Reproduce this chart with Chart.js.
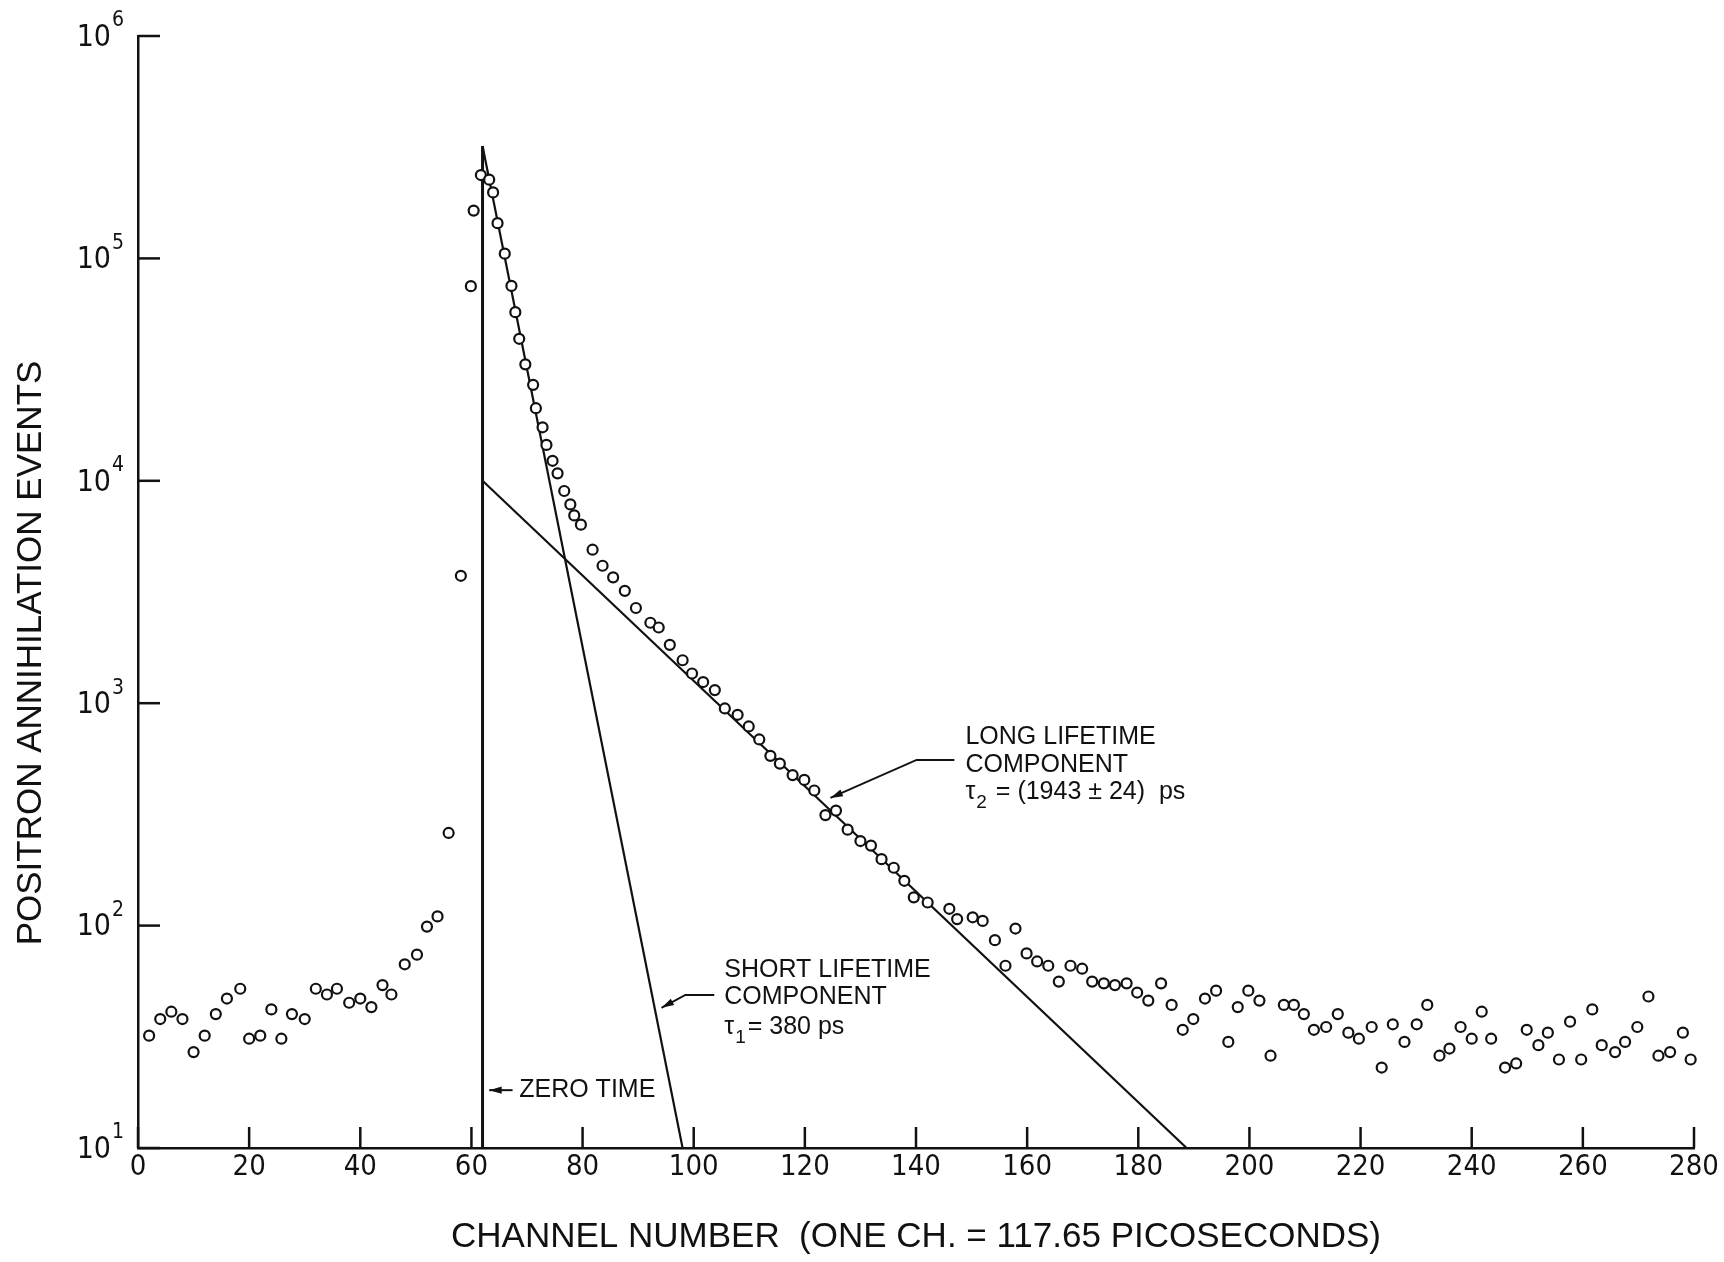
<!DOCTYPE html>
<html>
<head>
<meta charset="utf-8">
<script src="https://cdn.jsdelivr.net/npm/chart.js@4.4.0/dist/chart.umd.min.js"></script>
<style>
  html, body { margin: 0; padding: 0; background: #fff; }
</style>
</head>
<body>
<canvas id="decayChart" width="1724" height="1262"></canvas>
<script>
const INK = '#111';
const TEXT_FONT = "'Liberation Sans', Arial, sans-serif";
const NUM_FONT = "'Liberation Sans Narrow', 'DejaVu Sans Condensed', 'Liberation Sans', sans-serif";

const channels = [
    2, 4, 6, 8, 10, 12, 14, 16, 18.4, 20,
    22, 24, 25.8, 27.7, 30, 32, 34, 35.8, 38, 40,
    42, 44, 45.6, 48, 50.2, 52, 53.9, 55.9, 58.1,
    59.9, 60.4, 61.7, 63.2, 63.9, 64.7, 66.0, 67.2, 67.9, 68.6,
    69.7, 71.1, 71.6, 72.8, 73.5, 74.6, 75.5, 76.7, 77.8, 78.5,
    79.7,
    81.8, 83.6, 85.5, 87.6, 89.6, 92.2, 93.7, 95.7, 98.0, 99.7,
    101.7, 103.8, 105.6, 107.9, 109.9, 111.8, 113.8, 115.5, 117.8, 119.9,
    121.7, 123.7, 125.6, 127.7, 130.0, 131.9, 133.8, 136.0, 137.9, 139.6,
    142.1,
    146.0, 147.4, 150.2, 152.0, 154.2, 156.1, 157.9, 159.9, 161.8, 163.8,
    165.7, 167.8, 169.9, 171.7, 173.8, 175.8, 177.9, 179.8, 181.8, 184.1,
    186.0, 188.0, 189.9, 192.0, 194.0, 196.2, 197.9, 199.8, 201.8, 203.8,
    206.2, 208.0, 209.8, 211.6,
    213.8, 215.9, 217.8, 219.7, 222.0, 223.8, 225.8, 227.9, 230.1, 232.0,
    234.2, 236.0, 238.0, 240.0, 241.8, 243.5, 246.0, 248.0, 249.9, 252.0,
    253.7, 255.7, 257.7, 259.7, 261.7, 263.4, 265.8, 267.6, 269.8, 271.8,
    273.6, 275.7, 278.0, 279.4
];
const counts = [
    32, 38, 41, 38, 27, 32, 40, 47, 52, 31,
    32, 42, 31, 40, 38, 52, 49, 52, 45, 47,
    43, 54, 49, 67, 74, 99, 110, 261, 3740,
    75000, 164000, 237000, 226000, 198000, 144000, 105000, 75200, 57300, 43500,
    33400, 27000, 21200, 17400, 14500, 12300, 10800, 9000, 7830, 6990,
    6350,
    4900, 4150, 3680, 3200, 2680, 2300, 2190, 1830, 1560, 1360,
    1245, 1145, 947, 887, 786, 687, 580, 535, 475, 452,
    405, 314, 329, 270, 240, 229, 199, 182, 159, 134,
    127,
    119, 107, 109, 105, 86, 66, 97, 75, 69, 66,
    56, 66, 64, 56, 55, 54, 55, 50, 46, 55,
    44, 34, 38, 47, 51, 30, 43, 51, 46, 26,
    44, 44, 40, 34,
    35, 40, 33, 31, 35, 23, 36, 30, 36, 44,
    26, 28, 35, 31, 41, 31, 23, 24, 34, 29,
    33, 25, 37, 25, 42, 29, 27, 30, 35, 48,
    26, 27, 33, 25
];

// fitted lines (end points)
const zeroTimeX = [62, 62];
const zeroTimeY = [10, 320000];
const shortFitX = [62, 98];
const shortFitY = [320000, 10];
const longFitX = [62, 188.7];
const longFitY = [10000, 10];

// axes
const xTicks = [0, 20, 40, 60, 80, 100, 120, 140, 160, 180, 200, 220, 240, 260, 280];
const yExponents = [1, 2, 3, 4, 5, 6];
const xTitle = 'CHANNEL NUMBER  (ONE CH. = 117.65 PICOSECONDS)';
const yTitle = 'POSITRON ANNIHILATION EVENTS';

const toPoints = (xs, ys) => xs.map((v, i) => ({ x: v, y: ys[i] }));

// ticks drawn inward, power-of-ten labels, y title and the lettered notes
const decorPlugin = {
    id: 'decor',
    afterDraw(chart) {
        const { ctx, chartArea, scales: { x, y } } = chart;
        const px = v => x.getPixelForValue(v);
        const py = v => y.getPixelForValue(v);
        ctx.save();
        ctx.strokeStyle = INK;
        ctx.fillStyle = INK;
        ctx.lineWidth = 2.5;

        xTicks.forEach(v => {
            ctx.beginPath();
            ctx.moveTo(px(v), chartArea.bottom);
            ctx.lineTo(px(v), chartArea.bottom - 21);
            ctx.stroke();
        });

        yExponents.forEach(e => {
            const yy = py(Math.pow(10, e));
            ctx.beginPath();
            ctx.moveTo(chartArea.left, yy);
            ctx.lineTo(chartArea.left + 22, yy);
            ctx.stroke();
            ctx.font = `30px ${NUM_FONT}`;
            ctx.textAlign = 'right';
            ctx.textBaseline = 'middle';
            ctx.fillText('10', chartArea.left - 27, yy + 2);
            ctx.font = `21px ${NUM_FONT}`;
            ctx.textAlign = 'left';
            ctx.fillText(String(e), chartArea.left - 26, yy - 15);
        });

        // y title, sits lower than the middle of the axis in the original
        ctx.save();
        ctx.translate(31, 653);
        ctx.rotate(-Math.PI / 2);
        ctx.font = `35px ${TEXT_FONT}`;
        ctx.textAlign = 'center';
        ctx.textBaseline = 'middle';
        ctx.fillText(yTitle, 0, 0);
        ctx.restore();

        const arrow = (pts) => {
            ctx.lineWidth = 2;
            ctx.beginPath();
            pts.forEach(([a, b], i) => i ? ctx.lineTo(px(a), py(b)) : ctx.moveTo(px(a), py(b)));
            ctx.stroke();
            const [ax, ay] = pts[pts.length - 2];
            const [bx, by] = pts[pts.length - 1];
            const ang = Math.atan2(py(by) - py(ay), px(bx) - px(ax));
            const tx = px(bx), ty = py(by);
            ctx.beginPath();
            ctx.moveTo(tx, ty);
            ctx.lineTo(tx - 13 * Math.cos(ang - 0.28), ty - 13 * Math.sin(ang - 0.28));
            ctx.lineTo(tx - 13 * Math.cos(ang + 0.28), ty - 13 * Math.sin(ang + 0.28));
            ctx.closePath();
            ctx.fill();
        };

        const text = (str, ch, v, size = 25) => {
            ctx.font = `${size}px ${TEXT_FONT}`;
            ctx.textAlign = 'left';
            ctx.textBaseline = 'middle';
            ctx.fillText(str, px(ch), py(v));
        };

        const tauLine = (sub, rest, ch, v) => {
            let xx = px(ch);
            const yy = py(v);
            ctx.textAlign = 'left';
            ctx.textBaseline = 'middle';
            ctx.font = `25px ${TEXT_FONT}`;
            ctx.fillText('τ', xx, yy);
            xx += ctx.measureText('τ').width + 1;
            ctx.font = `19px ${TEXT_FONT}`;
            ctx.fillText(sub, xx, yy + 11);
            xx += ctx.measureText(sub).width + 2;
            ctx.font = `25px ${TEXT_FONT}`;
            ctx.fillText(rest, xx, yy);
        };

        // zero time
        arrow([[67.4, 18.2], [63.2, 18.2]]);
        text('ZERO TIME', 68.6, 18.2);

        // short lifetime
        arrow([[103.7, 48.8], [98.5, 48.8], [94.2, 42.7]]);
        text('SHORT LIFETIME', 105.5, 63.2);
        text('COMPONENT', 105.5, 47.8);
        tauLine('1', '= 380 ps', 105.5, 35);

        // long lifetime
        arrow([[146.9, 556], [140.1, 556], [124.6, 375]]);
        text('LONG LIFETIME', 148.9, 706);
        text('COMPONENT', 148.9, 528);
        tauLine('2', ' = (1943 ± 24)  ps', 148.9, 399);

        ctx.restore();
    }
};

new Chart(document.getElementById('decayChart').getContext('2d'), {
    type: 'scatter',
    data: {
        datasets: [
            {
                label: 'counts',
                data: toPoints(channels, counts),
                pointRadius: 5,
                pointBorderWidth: 2.2,
                borderColor: INK,
                backgroundColor: '#fff',
                clip: false,
                order: 0
            },
            {
                label: 'zero time',
                data: toPoints(zeroTimeX, zeroTimeY),
                showLine: true,
                pointRadius: 0,
                borderWidth: 3,
                borderColor: INK,
                order: 1
            },
            {
                label: 'short component',
                data: toPoints(shortFitX, shortFitY),
                showLine: true,
                pointRadius: 0,
                borderWidth: 2.2,
                borderColor: INK,
                order: 1
            },
            {
                label: 'long component',
                data: toPoints(longFitX, longFitY),
                showLine: true,
                pointRadius: 0,
                borderWidth: 2.2,
                borderColor: INK,
                order: 1
            }
        ]
    },
    options: {
        responsive: false,
        animation: false,
        devicePixelRatio: 1,
        layout: { padding: { top: 36, right: 30, bottom: 0, left: 0 } },
        plugins: {
            legend: { display: false },
            tooltip: { enabled: false }
        },
        scales: {
            x: {
                type: 'linear',
                min: 0,
                max: 280,
                afterBuildTicks: (scale) => { scale.ticks = xTicks.map(v => ({ value: v })); },
                ticks: { font: { family: NUM_FONT, size: 29 }, color: INK, padding: 2, maxRotation: 0 },
                grid: { display: false, drawTicks: false },
                border: { color: INK, width: 2.5 },
                title: {
                    display: true,
                    text: xTitle,
                    color: INK,
                    font: { family: TEXT_FONT, size: 35 },
                    padding: { top: 0, bottom: 4 }
                },
                afterFit: (scale) => { scale.height = 114; }
            },
            y: {
                type: 'logarithmic',
                min: 10,
                max: 1000000,
                ticks: { display: false },
                grid: { display: false, drawTicks: false },
                border: { color: INK, width: 2.5 },
                afterFit: (scale) => { scale.width = 138; }
            }
        }
    },
    plugins: [decorPlugin]
});
</script>
</body>
</html>
